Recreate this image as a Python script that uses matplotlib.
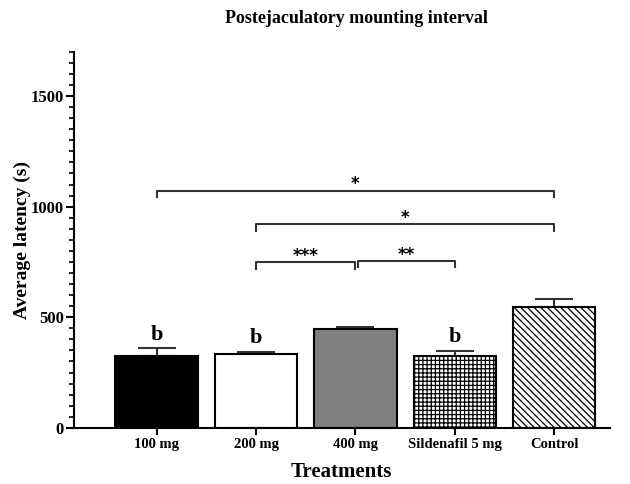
import numpy as np
import matplotlib
matplotlib.use("Agg")
import matplotlib.pyplot as plt

plt.rcParams['font.family'] = 'Liberation Serif'
plt.rcParams['font.weight'] = 'bold'
plt.rcParams['hatch.linewidth'] = 0.9

groups = ['100 mg', '200 mg', '400 mg', 'Sildenafil 5 mg', 'Control']
means = [323, 332, 449, 327, 547]
errs = [36, 13, 7, 20, 35]
colors = ['black', 'white', '#808080', 'white', 'white']
hatches = ['', '', '', '++++', '\\\\\\\\\\']
letters = ['b', 'b', '', 'b', '']

# comparisons: (i, j, height, label)
comps = [(0, 4, 1071, '*'), (1, 4, 920, '*'), (1, 2, 748, '***'), (2.03, 3, 753, '**')]

fig = plt.figure(figsize=(6.3, 4.84), dpi=100)
ax = fig.add_axes([0.117, 0.116, 0.851, 0.777])

x = np.arange(len(groups))
ax.bar(x, means, width=0.83, color=colors, edgecolor='black', linewidth=1.5,
       hatch=hatches, zorder=2)
ax.errorbar(x, means, yerr=[np.zeros(len(errs)), errs], fmt='none', ecolor='#333333',
            elinewidth=1.5, capsize=14, capthick=1.5, zorder=1)

for xi, m, e, l in zip(x, means, errs, letters):
    if l:
        ax.text(xi, m + e + 62, l, ha='center', va='center', fontsize=16, fontweight='bold')

for i, j, h, lab in comps:
    ax.plot([i, i, j, j], [h - 28, h, h, h - 28], color='#333333', lw=1.5, zorder=3)
    ax.text((i + j) / 2, h + 30, lab, ha='center', va='center', fontsize=12,
            family='DejaVu Sans', fontweight='bold')

ax.set_ylim(0, 1700)
ax.set_xlim(-0.835, 4.56)
ax.set_yticks([0, 500, 1000, 1500])
ax.set_yticks(np.arange(0, 1701, 50), minor=True)
ax.set_xticks(x)
ax.set_xticklabels(groups, fontsize=10.5, fontweight='bold')
ax.tick_params(axis='y', labelsize=12, width=1.5, length=6, pad=1)
ax.tick_params(axis='y', which='minor', width=1.2, length=3.5)
ax.tick_params(axis='x', width=1.5, length=5, pad=2)
for lbl in ax.get_yticklabels():
    lbl.set_fontweight('bold')

ax.spines['top'].set_visible(False)
ax.spines['right'].set_visible(False)
ax.spines['left'].set_linewidth(1.5)
ax.spines['bottom'].set_linewidth(1.5)

ax.set_ylabel('Average latency (s)', fontsize=14, fontweight='bold')
ax.yaxis.set_label_coords(-0.08, 0.5)
ax.set_xlabel('Treatments', fontsize=15, fontweight='bold', labelpad=8)
fig.text(0.565, 0.962, 'Postejaculatory mounting interval', ha='center', va='center',
         fontsize=13, fontweight='bold')

fig.savefig('out.png', dpi=100)
